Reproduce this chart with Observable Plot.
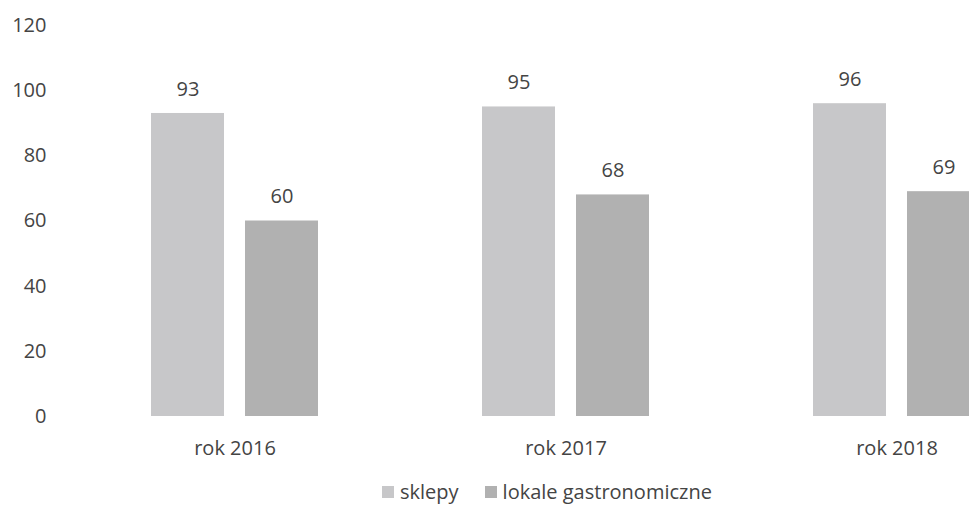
<!DOCTYPE html>
<html>
<head>
<meta charset="utf-8">
<script src="https://cdn.jsdelivr.net/npm/d3@7"></script>
<script src="https://cdn.jsdelivr.net/npm/@observablehq/plot@0.6"></script>
<style>
  html, body { margin: 0; padding: 0; background: #fff; overflow: hidden; width: 969px; height: 508px; }
  #chart { position: relative; }
  .legend { position: absolute; top: 480px; left: 382px; display: flex; font-family: "Open Sans", sans-serif; font-size: 20px; line-height: 24px; color: #444; white-space: nowrap; }
  .legend span.item { display: inline-flex; align-items: center; margin-right: 26px; }
  .legend span.sw { display: inline-block; width: 12px; height: 12px; margin-right: 6px; }
</style>
</head>
<body>
<div id="chart"></div>
<script>
const years = ["rok 2016", "rok 2017", "rok 2018"];
const series = ["sklepy", "lokale gastronomiczne"];
const sklepy = [93, 95, 96];
const lokale = [60, 68, 69];
const colors = ["#c7c7c9", "#b1b1b1"];
const yTicks = [0, 20, 40, 60, 80, 100, 120];

const data = [];
years.forEach((yr, i) => {
  data.push({year: yr, series: series[0], value: sklepy[i]});
  data.push({year: yr, series: series[1], value: lokale[i]});
});

const plot = Plot.plot({
  width: 982,
  height: 470,
  marginLeft: 149,
  marginRight: 0,
  marginTop: 25,
  marginBottom: 54,
  style: {fontFamily: "Open Sans, sans-serif", fontSize: "20px", color: "#444", maxWidth: "none", overflow: "visible"},
  fx: {domain: years, paddingInner: 0.49, paddingOuter: 0, label: null},
  x: {domain: series, paddingInner: 0.22, paddingOuter: 0, axis: null},
  y: {domain: [0, 120], ticks: yTicks, label: null},
  color: {domain: series, range: colors},
  marks: [
    Plot.axisY({ticks: yTicks, tickSize: 0, tickPadding: 104, label: null, fontSize: 20}),
    Plot.axisFx({anchor: "bottom", tickSize: 0, tickPadding: 24, label: null, fontSize: 20}),
    Plot.barY(data, {fx: "year", x: "series", y: "value", fill: "series"}),
    Plot.text(data, {fx: "year", x: "series", y: "value", text: d => String(d.value), dy: -24, fontSize: 20, fill: "#444"})
  ]
});
const chart = document.getElementById("chart");
chart.appendChild(plot);

const legend = document.createElement("div");
legend.className = "legend";
series.forEach((s, i) => {
  const item = document.createElement("span");
  item.className = "item";
  const sw = document.createElement("span");
  sw.className = "sw";
  sw.style.background = colors[i];
  item.appendChild(sw);
  item.appendChild(document.createTextNode(s));
  legend.appendChild(item);
});
chart.appendChild(legend);
</script>
</body>
</html>
